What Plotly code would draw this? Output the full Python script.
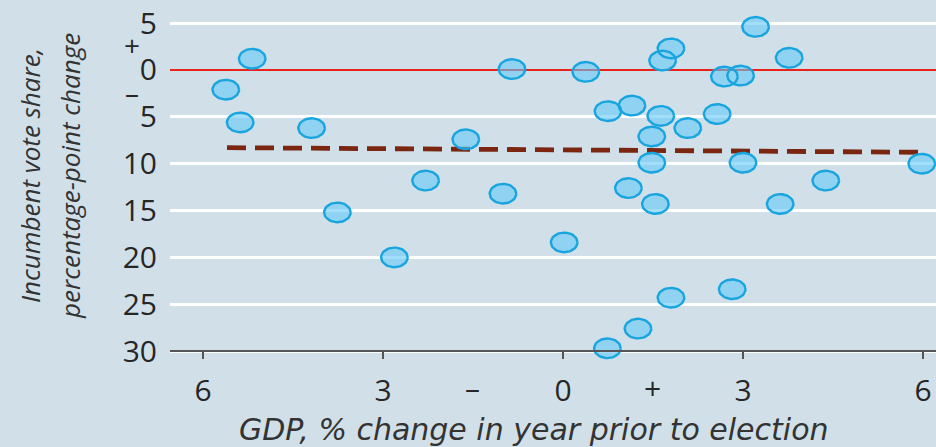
import numpy as np
import plotly.graph_objects as go

# ---------------- data ----------------
gdp_change = [-5.62, -5.18, -5.38, -4.19, -3.76, -2.81, -2.29, -1.62, -1.00, -0.85,
              0.02, 0.38, 0.75, 0.74, 1.09, 1.15, 1.25, 1.48, 1.48, 1.54,
              1.63, 1.66, 1.80, 1.80, 2.08, 2.57, 2.69, 2.96, 3.00, 2.82,
              3.21, 3.77, 3.62, 4.38, 5.98]
vote_change = [-2.1, 1.2, -5.6, -6.2, -15.2, -20.0, -11.8, -7.4, -13.2, 0.1,
               -18.4, -0.2, -4.4, -29.7, -12.6, -3.8, -27.6, -9.9, -7.1, -14.3,
               -4.9, 1.0, 2.3, -24.3, -6.2, -4.7, -0.7, -0.6, -9.9, -23.4,
               4.6, 1.3, -14.3, -11.8, -10.0]
trend_x = [-5.6, 5.95]
trend_y = [-8.29, -8.78]

y_tick_values = [5, 0, -5, -10, -15, -20, -25, -30]
y_tick_labels = ["5", "0", "5", "10", "15", "20", "25", "30"]
x_tick_values = [-6, -3, 0, 3, 6]
x_tick_labels = ["6", "3", "0", "3", "6"]
x_sign_positions = [-1.5, 1.5]
x_sign_labels = ["–", "+"]
y_sign_positions = [2.65, -2.35]
y_sign_labels = ["+", "–"]

x_title = "GDP, % change in year prior to election"
y_title_lines = ["Incumbent vote share,", "percentage-point change"]

# ---------------- layout geometry / style ----------------
W, H = 936, 447
ML, MR, MT, MB = 170, 0, 10, 84
X_RANGE = [-6.55, 6.217]
Y_RANGE = [-31.27, 6.40]
PW, PH = W - ML - MR, H - MT - MB
px_x = PW / (X_RANGE[1] - X_RANGE[0])
px_y = PH / (Y_RANGE[1] - Y_RANGE[0])

BG = "#d1e0e8"
FONT = "Open Sans, Lato, sans-serif"
XT_FONT = "DejaVu Sans, Open Sans, sans-serif"
TXT = "#262626"


def paper_x(px):
    return (px - ML) / PW


def paper_y(py):
    return (H - MB - py) / PH


# ellipse outlines around each data point (semi-axes given in pixels)
RX_PX, RY_PX = 13.3, 9.8
rx, ry = RX_PX / px_x, RY_PX / px_y
t = np.linspace(0, 2 * np.pi, 49)
ex, ey = [], []
for gx, vy in zip(gdp_change, vote_change):
    ex += list(gx + rx * np.cos(t)) + [None]
    ey += list(vy + ry * np.sin(t)) + [None]

fig = go.Figure()
fig.add_trace(go.Scatter(x=trend_x, y=trend_y, mode="lines",
                         line=dict(color="#7a2610", width=4.8, dash="19px,9px"),
                         hoverinfo="skip"))
fig.add_trace(go.Scatter(x=ex, y=ey, mode="lines", fill="toself",
                         fillcolor="rgba(100,200,246,0.6)", line=dict(width=0),
                         hoverinfo="skip"))
fig.add_trace(go.Scatter(x=ex, y=ey, mode="lines",
                         line=dict(color="#18a5df", width=2.4),
                         hoverinfo="skip"))

annotations = []
for xv, lab in zip(x_sign_positions, x_sign_labels):
    annotations.append(dict(x=xv, xref="x", y=paper_y(387), yref="paper", text=lab,
                            showarrow=False, font=dict(family=FONT, size=30, color=TXT),
                            xanchor="center", yanchor="middle"))
for yv, lab in zip(y_sign_positions, y_sign_labels):
    annotations.append(dict(x=paper_x(132), xref="paper", y=yv, yref="y", text=lab,
                            showarrow=False, font=dict(family=FONT, size=28, color=TXT),
                            xanchor="center", yanchor="middle"))
annotations.append(dict(x=paper_x(534), xref="paper", y=paper_y(430), yref="paper",
                        text="<i>" + x_title + "</i>", showarrow=False,
                        font=dict(family=XT_FONT, size=30, color="#333333"),
                        xanchor="center", yanchor="middle"))
for xp, line in zip([30, 70], y_title_lines):
    annotations.append(dict(x=paper_x(xp), xref="paper", y=paper_y(176), yref="paper",
                            text="<i>" + line + "</i>", showarrow=False, textangle=-90,
                            font=dict(family=FONT, size=26, color="#333333"),
                            xanchor="center", yanchor="middle"))

fig.update_layout(
    width=W, height=H,
    margin=dict(l=ML, r=MR, t=MT, b=MB, pad=0),
    paper_bgcolor=BG, plot_bgcolor=BG,
    showlegend=False,
    annotations=annotations,
    xaxis=dict(range=X_RANGE, anchor="free", position=paper_y(351),
               tickvals=x_tick_values, ticktext=x_tick_labels,
               showgrid=False, zeroline=False,
               showline=True, linecolor="#555555", linewidth=2,
               ticks="outside", ticklen=7, tickwidth=2, tickcolor="#555555",
               ticklabelstandoff=6,
               tickfont=dict(family=FONT, size=30, color=TXT)),
    yaxis=dict(range=Y_RANGE, tickvals=y_tick_values, ticktext=y_tick_labels,
               showgrid=True, gridcolor="white", gridwidth=3,
               zeroline=True, zerolinecolor="#e8231b", zerolinewidth=2,
               showline=False, ticks="", ticklabelstandoff=12,
               tickfont=dict(family=FONT, size=30, color=TXT)),
)

fig.write_html(
    "out.html",
    config={"displayModeBar": False},
    post_script="document.body.style.margin='0';document.body.style.background='%s';" % BG,
)
